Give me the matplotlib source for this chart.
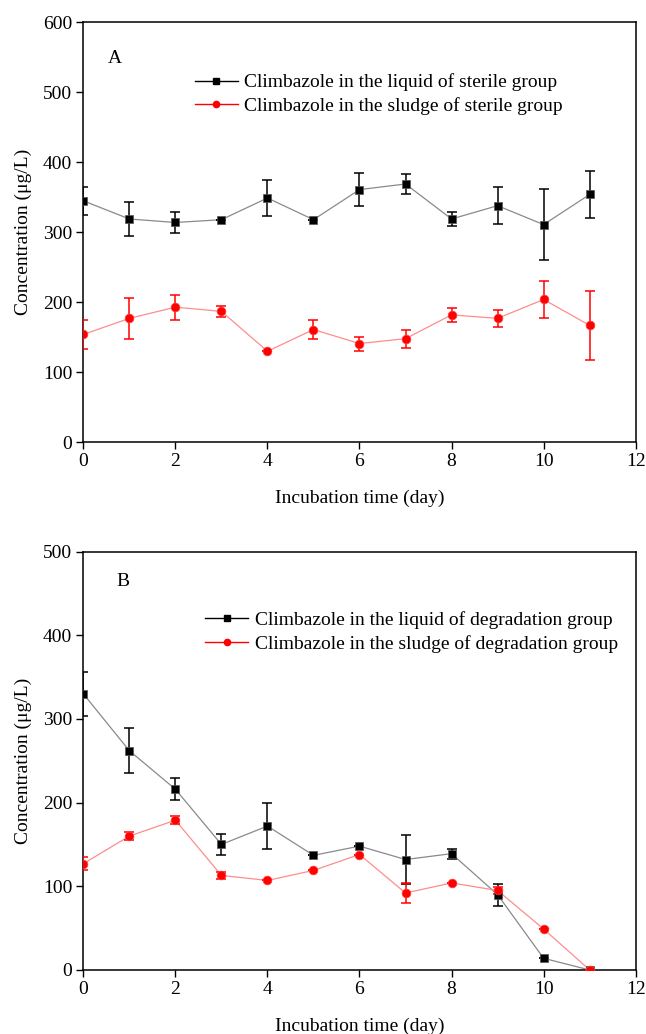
import numpy as np
import matplotlib.pyplot as plt
from matplotlib.lines import Line2D

plt.rcParams['font.family'] = ['Liberation Serif', 'DejaVu Serif']
plt.rcParams['font.size'] = 14
plt.rcParams['mathtext.fontset'] = 'stix'

days = np.arange(0, 12)

# Panel A - sterile group
liq_a = [345, 319, 314, 318, 349, 318, 361, 369, 319, 338, 311, 354]
liq_a_err = [20, 24, 15, 0, 26, 0, 24, 14, 10, 26, 51, 33]
slu_a = [154, 177, 193, 187, 130, 161, 141, 148, 182, 177, 204, 167]
slu_a_err = [21, 29, 18, 8, 0, 13, 10, 13, 10, 12, 27, 49]

# Panel B - degradation group
liq_b = [330, 262, 216, 150, 172, 137, 148, 132, 139, 90, 14, 0]
liq_b_err = [26, 27, 13, 13, 27, 0, 0, 29, 6, 13, 0, 0]
slu_b = [127, 160, 179, 113, 107, 119, 138, 92, 104, 95, 49, 0]
slu_b_err = [8, 5, 5, 4, 0, 0, 0, 12, 0, 4, 0, 0]

labels_a = ["Climbazole in the liquid of sterile group",
            "Climbazole in the sludge of sterile group"]
labels_b = ["Climbazole in the liquid of degradation group",
            "Climbazole in the sludge of degradation group"]

fig = plt.figure(figsize=(6.46, 10.34), dpi=100)
ax1 = fig.add_axes([0.129, 0.5723, 0.855, 0.4061])
ax2 = fig.add_axes([0.129, 0.0619, 0.855, 0.4047])


def draw(ax, liq, liq_err, slu, slu_err, ymax, labels, letter, leg_xy, letter_xy):
    ax.plot(days, liq, color='#8a8a8a', lw=0.9, zorder=2)
    ax.plot(days, slu, color='#ff8c8c', lw=0.9, zorder=2)
    ax.errorbar(days, liq, yerr=liq_err, fmt='none', ecolor='black',
                elinewidth=1.1, capsize=3.5, capthick=1.1, zorder=3)
    ax.errorbar(days, slu, yerr=slu_err, fmt='none', ecolor='red',
                elinewidth=1.1, capsize=3.5, capthick=1.1, zorder=3)
    ax.plot(days, liq, ls='none', marker='s', ms=5.6, mfc='black',
            mec='#555555', mew=0.5, zorder=4)
    ax.plot(days, slu, ls='none', marker='o', ms=6.3, mfc='red',
            mec='#ff4040', mew=0.5, zorder=4)
    ax.set_xlim(0, 12)
    ax.set_ylim(0, ymax)
    ax.set_xticks(np.arange(0, 13, 2))
    ax.set_yticks(np.arange(0, ymax + 1, 100))
    ax.tick_params(direction='out', length=5, width=1, labelsize=14, pad=3)
    for s in ax.spines.values():
        s.set_linewidth(1.1)
    ax.set_xlabel("Incubation time (day)", fontsize=14, labelpad=14)
    ax.set_ylabel("Concentration (\u03bcg/L)", fontsize=14, labelpad=8)
    handles = [
        Line2D([], [], color='black', lw=1, marker='s', ms=4, mfc='black', mec='black'),
        Line2D([], [], color='red', lw=1, marker='o', ms=4.5, mfc='red', mec='red'),
    ]
    ax.legend(handles, labels, loc='upper left', bbox_to_anchor=leg_xy,
              frameon=False, fontsize=14, handlelength=2.2,
              handletextpad=0.35, labelspacing=0.3, borderpad=0,
              borderaxespad=0)
    ax.text(letter_xy[0], letter_xy[1], letter, transform=ax.transAxes,
            fontsize=14, ha='left', va='center')


draw(ax1, liq_a, liq_a_err, slu_a, slu_a_err, 600, labels_a, "A",
     (0.202, 0.878), (0.045, 0.915))
draw(ax2, liq_b, liq_b_err, slu_b, slu_b_err, 500, labels_b, "B",
     (0.221, 0.858), (0.06, 0.929))

fig.savefig("out.png", dpi=100)
